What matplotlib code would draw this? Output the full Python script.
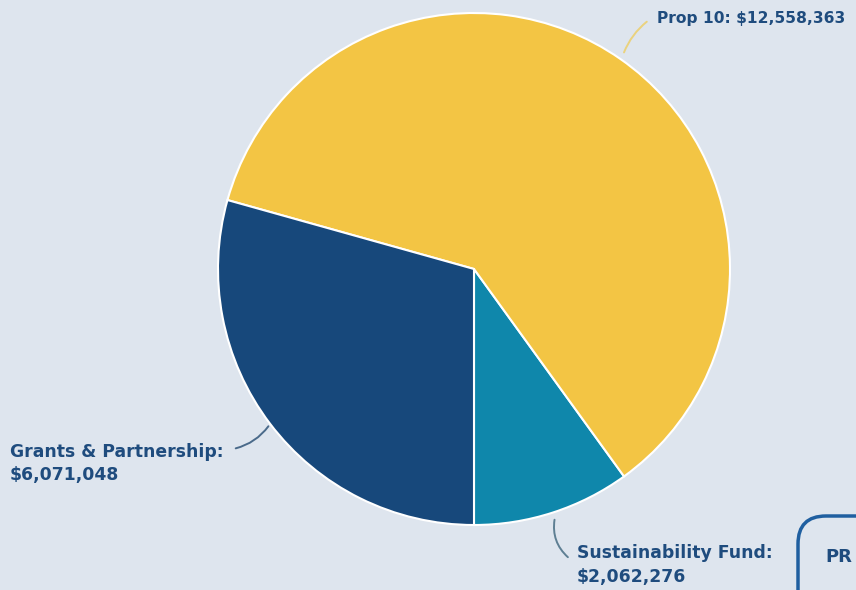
import matplotlib.pyplot as plt
from matplotlib.patches import FancyBboxPatch, FancyArrowPatch

# funding sources, drawn counterclockwise from straight down
sources = ["Sustainability Fund", "Prop 10", "Grants & Partnership"]
amounts = [2062276, 12558363, 6071048]
colors = ["#0f87ab", "#f3c544", "#17487b"]

BG = "#dee5ee"
TEXT = "#1f4c7e"

plt.rcParams["font.family"] = ["DejaVu Sans"]

fig = plt.figure(figsize=(8.56, 5.90), dpi=100, facecolor=BG)
ax = fig.add_axes([0, 0, 1, 1])
ax.set_facecolor(BG)

ax.pie(amounts, colors=colors, startangle=270, counterclock=True,
       center=(474, 321), radius=256,
       wedgeprops=dict(edgecolor="white", linewidth=1.5))

# pie() resets the limits, so fix them afterwards (pixel coordinates)
ax.set_xlim(0, 856)
ax.set_ylim(0, 590)
ax.set_aspect("equal")
ax.axis("off")


def fmt(v):
    return f"${v:,}"


def leader(p0, p1, color, rad):
    ax.add_patch(FancyArrowPatch(p0, p1, arrowstyle="-", color=color, lw=1.4,
                                 connectionstyle=f"arc3,rad={rad}"))


# Prop 10
leader((623, 535), (649, 570), "#ead27e", -0.15)
ax.text(657, 572, f"{sources[1]}: {fmt(amounts[1])}", color=TEXT,
        fontsize=11.2, fontweight="bold", va="center", ha="left")

# Grants & Partnership
leader((233, 141), (270, 166), "#4a6a8a", 0.2)
ax.text(10, 126.5, f"{sources[2]}:\n{fmt(amounts[2])}", color=TEXT,
        fontsize=12.4, fontweight="bold", va="center", ha="left",
        linespacing=1.42)

# Sustainability Fund
leader((555, 73), (570, 31), "#5e7f93", 0.3)
ax.text(577, 25, f"{sources[0]}:\n{fmt(amounts[0])}", color=TEXT,
        fontsize=12.4, fontweight="bold", va="center", ha="left",
        linespacing=1.42)

# clipped button at bottom right
ax.add_patch(FancyBboxPatch((798, -40), 120, 114,
                            boxstyle="round,pad=0,rounding_size=28",
                            facecolor="none", edgecolor="#1f5fa0", lw=2.5))
ax.text(825, 33, "PR", color=TEXT, fontsize=13, fontweight="bold",
        va="center", ha="left")

fig.savefig("out.png", dpi=100, facecolor=BG)
